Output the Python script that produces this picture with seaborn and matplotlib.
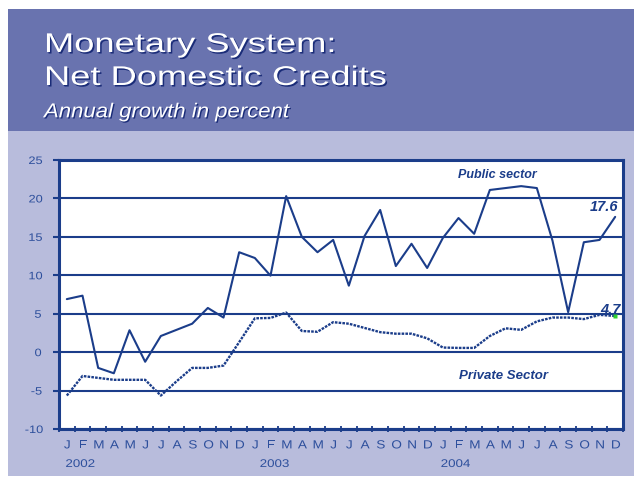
import numpy as np
import pandas as pd
import matplotlib
matplotlib.use("Agg")
import matplotlib.pyplot as plt
import matplotlib.colors as mcolors
import matplotlib.transforms as mtransforms
from matplotlib.patches import Rectangle
from matplotlib.patheffects import AbstractPathEffect
import seaborn as sns

# ---- data -------------------------------------------------------------
months = list("JFMAMJJASOND") * 3
years = ["2002", "2003", "2004"]
year_pos = [0.7, 13.1, 24.65]

public = [6.9, 7.35, -2.05, -2.75, 2.85, -1.25, 2.1, 2.9, 3.7, 5.75, 4.5, 13.0,
          12.25, 9.95, 20.3, 15.0, 13.0, 14.6, 8.65, 15.1, 18.5, 11.2, 14.1, 10.95,
          14.85, 17.45, 15.4, 21.1, 21.35, 21.6, 21.35, 14.5, 5.2, 14.3, 14.6, 17.6]
private = [-5.65, -3.1, -3.35, -3.6, -3.6, -3.6, -5.65, -3.8, -2.05, -2.05, -1.75, 1.3,
           4.4, 4.45, 5.15, 2.75, 2.65, 3.9, 3.7, 3.15, 2.6, 2.4, 2.4, 1.8,
           0.6, 0.55, 0.55, 2.1, 3.1, 2.9, 4.0, 4.5, 4.5, 4.3, 4.85, 4.7]

yticks = [-10, -5, 0, 5, 10, 15, 20, 25]

# ---- colours ------------------------------------------------------------
NAVY = "#1b3d8a"
TICK_TXT = "#2d4f9c"
BANNER = "#6973af"
LAVENDER = "#b8bcdc"
SHADOW = "#1a2c78"


class Widen(AbstractPathEffect):
    """Draw text horizontally widened about its origin, optionally offset/recoloured."""

    def __init__(self, sx=1.0, offset=(0.0, 0.0), color=None):
        super().__init__()
        self.sx = sx
        self.off = offset
        self.color = color

    def draw_path(self, renderer, gc, tpath, affine, rgbFace=None):
        m = affine.get_matrix()
        tx, ty = m[0, 2], m[1, 2]
        dx = renderer.points_to_pixels(self.off[0])
        dy = renderer.points_to_pixels(self.off[1])
        aff = affine + mtransforms.Affine2D().translate(-tx, -ty).scale(self.sx, 1.0).translate(tx + dx, ty + dy)
        gc0 = renderer.new_gc()
        gc0.copy_properties(gc)
        if self.color is not None:
            rgba = mcolors.to_rgba(self.color)
            gc0.set_foreground(rgba)
            rgbFace = rgba
        renderer.draw_path(gc0, tpath, aff, rgbFace)
        gc0.restore()


sns.set_theme(style="white")
plt.rcParams["font.family"] = ["Liberation Sans", "DejaVu Sans"]
plt.rcParams["axes.unicode_minus"] = False

df = pd.DataFrame({
    "month": np.arange(len(months)),
    "Public sector": public,
    "Private Sector": private,
})

fig = plt.figure(figsize=(6.34, 4.79), dpi=100, facecolor="white")
W, H = 634, 479

# banner and panel background
fig.add_artist(Rectangle((8 / W, 3 / H), 1 - 8 / W, (H - 131 - 3) / H,
                         transform=fig.transFigure, facecolor=LAVENDER, edgecolor="none", zorder=0))
fig.add_artist(Rectangle((8 / W, 1 - 131 / H), 1 - 8 / W, (131 - 9) / H,
                         transform=fig.transFigure, facecolor=BANNER, edgecolor="none", zorder=0))

# titles
title_fx = [Widen(1.34, (1.1, -1.1), SHADOW), Widen(1.34)]
fig.text(44 / W, 1 - 52 / H, "Monetary System:", color="white", fontsize=19.5,
         va="baseline", ha="left", path_effects=title_fx)
fig.text(44 / W, 1 - 85 / H, "Net Domestic Credits", color="white", fontsize=19.5,
         va="baseline", ha="left", path_effects=title_fx)
fig.text(44 / W, 1 - 117.3 / H, "Annual growth in percent", color="white", fontsize=14.5,
         style="italic", va="baseline", ha="left",
         path_effects=[Widen(1.1, (0.9, -0.9), SHADOW), Widen(1.1)])

# plot panel
ax = fig.add_axes([59 / W, 50 / H, 564 / W, 269 / H])
ax.set_facecolor("white")

sns.lineplot(data=df, x="month", y="Public sector", ax=ax, color=NAVY, lw=1.5, zorder=4)
sns.lineplot(data=df, x="month", y="Private Sector", ax=ax, color=NAVY, lw=1.7,
             linestyle=(0, (1.1, 0.5)), zorder=4)
ax.plot(df["month"].iloc[-1], private[-1], marker="s", ms=2.5, color="#2fd12f",
        mec="none", zorder=5)

ax.set_xlim(-0.5, len(months) - 0.5)
ax.set_ylim(yticks[0], yticks[-1])
ax.set_xlabel("")
ax.set_ylabel("")

for s in ax.spines.values():
    s.set_color(NAVY)
    s.set_linewidth(2.2)
    s.set_visible(True)

ax.set_yticks(yticks)
ax.grid(axis="y", color=NAVY, lw=1.5, zorder=1)
ax.grid(axis="x", visible=False)
ax.tick_params(axis="y", direction="out", length=4.3, width=1.5, color=NAVY,
               labelsize=7.8, labelcolor=TICK_TXT, pad=9, left=True)

ax.set_xticks(range(len(months)))
ax.set_xticklabels(months)
ax.set_xticks(np.arange(-0.5, len(months), 1.0), minor=True)
ax.tick_params(axis="x", which="major", length=0, pad=7.5, labelsize=8.5,
               labelcolor=TICK_TXT)
ax.tick_params(axis="x", which="minor", direction="inout", length=5, width=1.3,
               color=NAVY, bottom=True)

for lbl in ax.get_xticklabels():
    lbl.set_path_effects([Widen(1.15)])
for lbl in ax.get_yticklabels():
    lbl.set_path_effects([Widen(1.18)])

# year captions under the month letters
trans = mtransforms.blended_transform_factory(ax.transData, ax.transAxes)
for pos, yr in zip(year_pos, years):
    ax.text(pos, -0.13, yr, transform=trans, ha="center", va="center", fontsize=8,
            color=TICK_TXT, path_effects=[Widen(1.2)], clip_on=False)

# series captions and end values
lab_kw = dict(color=NAVY, fontweight="bold", style="italic", va="baseline")
ax.text(27.45, 22.7, "Public sector", ha="center", fontsize=9, **lab_kw)
ax.text(27.9, -3.45, "Private Sector", ha="center", fontsize=9.5, **lab_kw)
ax.text(35.17, 18.4, f"{public[-1]:.1f}", ha="right", fontsize=10.5, zorder=6, **lab_kw)
ax.text(35.36, 4.95, f"{private[-1]:.1f}", ha="right", fontsize=10.5, zorder=6, **lab_kw)

fig.savefig("out.png", dpi=100, facecolor=fig.get_facecolor())
